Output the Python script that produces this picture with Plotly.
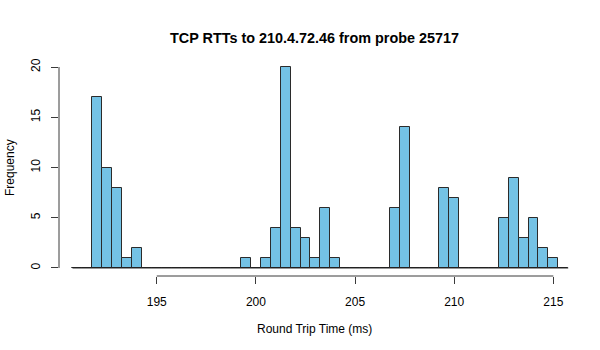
import numpy as np
import plotly.graph_objects as go

# Histogram of TCP round-trip times: 0.5 ms bins starting at 190.75 ms
bin_start = 190.75
bin_width = 0.5
counts = [
    0, 0, 17, 10, 8, 1, 2,                 # 190.75 - 194.25
    0, 0, 0, 0, 0, 0, 0, 0, 0, 0,          # 194.25 - 199.25
    1, 0, 1, 4, 20, 4, 3, 1, 6, 1,         # 199.25 - 204.25
    0, 0, 0, 0, 0,                         # 204.25 - 206.75
    6, 14,                                 # 206.75 - 207.75
    0, 0, 0,                               # 207.75 - 209.25
    8, 7,                                  # 209.25 - 210.25
    0, 0, 0, 0,                            # 210.25 - 212.25
    5, 9, 3, 5, 2, 1,                      # 212.25 - 215.25
    0,                                     # 215.25 - 215.75
]
x_ticks = [195, 200, 205, 210, 215]
y_ticks = [0, 5, 10, 15, 20]

title = "TCP RTTs to 210.4.72.46 from probe 25717"
x_label = "Round Trip Time (ms)"
y_label = "Frequency"

breaks = bin_start + bin_width * np.arange(len(counts) + 1)
mids = (breaks[:-1] + breaks[1:]) / 2

FONT = "Liberation Sans, Arial, Helvetica, sans-serif"
AXIS_COL = "#3a3a3a"

fig = go.Figure()
fig.add_trace(go.Bar(
    x=mids, y=counts, width=bin_width,
    marker=dict(color="#74C2E5", line=dict(color="#2b2b2b", width=1)),
    hoverinfo="x+y", showlegend=False,
))

shapes = [
    # empty bins render as a flat line along zero
    dict(type="line", xref="x", yref="y", x0=breaks[0], x1=breaks[-1], y0=0, y1=0,
         line=dict(color="#1a1a1a", width=1)),
    # axis lines spanning first to last tick only
    dict(type="line", xref="x", yref="paper", x0=x_ticks[0], x1=x_ticks[-1], y0=0, y1=0,
         line=dict(color=AXIS_COL, width=1)),
    dict(type="line", xref="paper", yref="y", x0=0, x1=0, y0=y_ticks[0], y1=y_ticks[-1],
         line=dict(color=AXIS_COL, width=1)),
]

annotations = [
    dict(text=x_label, xref="paper", yref="paper", x=0.5, y=0, yanchor="middle",
         yshift=-53, showarrow=False, font=dict(size=12, color="#000", family=FONT)),
    dict(text=y_label, xref="paper", yref="paper", x=0, y=0.5, xanchor="center",
         xshift=-49.5, textangle=-90, showarrow=False,
         font=dict(size=12, color="#000", family=FONT)),
]

fig.update_layout(
    width=600, height=350,
    margin=dict(l=59, r=30, t=59, b=74),
    paper_bgcolor="white", plot_bgcolor="white",
    font=dict(family=FONT, size=12, color="#000"),
    title=dict(text="<b>" + title + "</b>", x=(59 + 570) / 2 / 600, xanchor="center",
               y=1 - 38 / 350, yanchor="middle", font=dict(size=14.4, family=FONT)),
    bargap=0,
    shapes=shapes,
    annotations=annotations,
    xaxis=dict(range=[190.07, 215.84], tickvals=x_ticks, ticks="outside", ticklen=7,
               tickcolor=AXIS_COL, tickwidth=1, showgrid=False, zeroline=False,
               showline=False, ticklabelstandoff=8, tickfont=dict(size=12)),
    yaxis=dict(range=[-0.8, 20.8], tickvals=y_ticks, ticks="outside", ticklen=7,
               tickcolor=AXIS_COL, tickwidth=1, showgrid=False, zeroline=False,
               showline=False, tickangle=-90, ticklabelstandoff=6, tickfont=dict(size=12)),
)

fig.write_html("out.html")
